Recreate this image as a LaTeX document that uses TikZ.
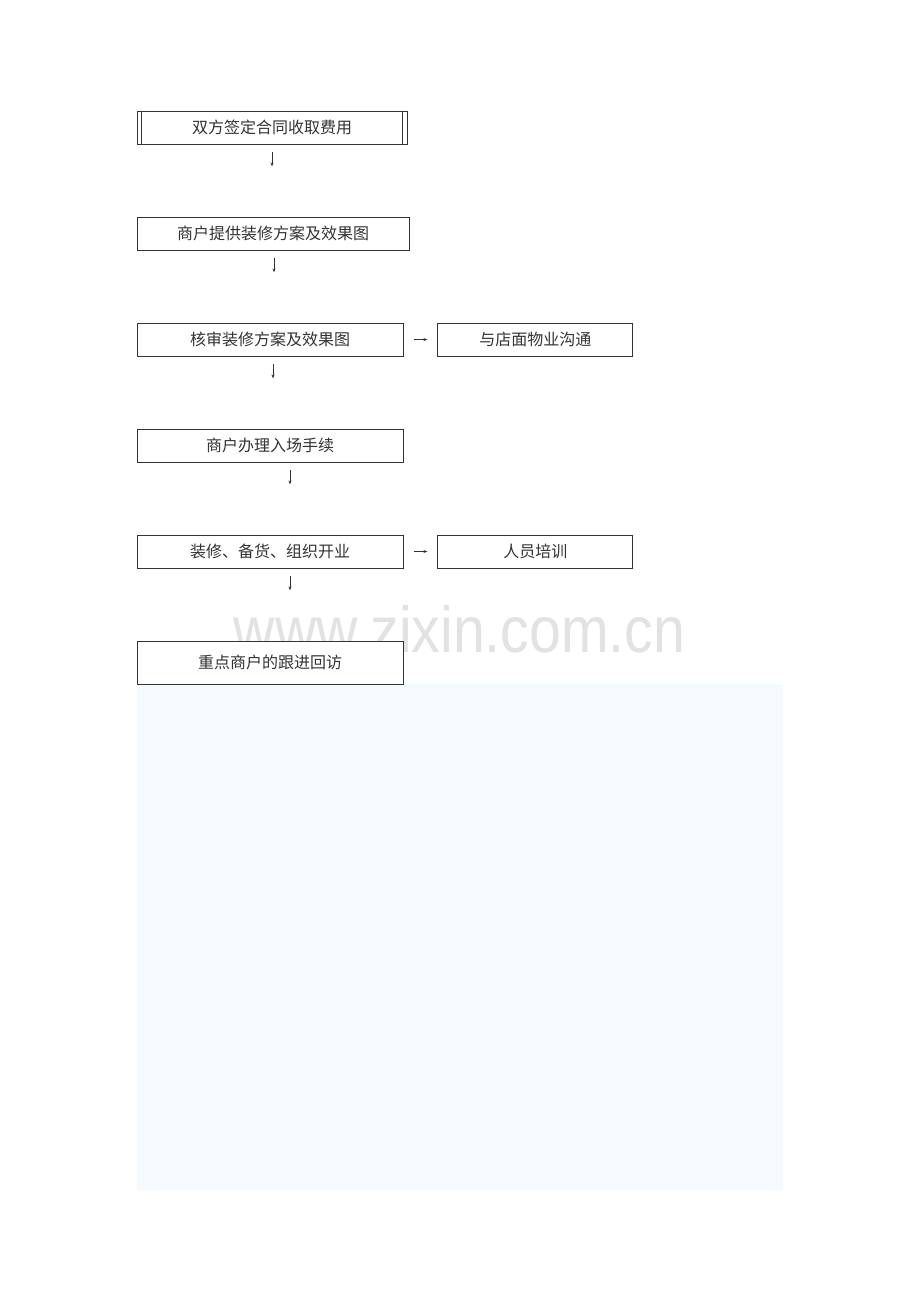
\documentclass[tikz,border=0pt]{standalone}
\usepackage{fontspec}
\setmainfont{Liberation Sans}
\newfontfamily\cjk{Noto Sans CJK SC}
\usepackage{tikz}
\usetikzlibrary{calc,arrows.meta,positioning}
\definecolor{inkgray}{HTML}{333333}
\definecolor{paleblue}{HTML}{F5FAFE}
\definecolor{markgray}{HTML}{E2E2E2}
\tikzset{
  flowbox/.style={rectangle, draw=inkgray, line width=0.8pt, minimum height=33pt,
    inner sep=0pt, text=inkgray, font=\cjk\fontsize{16}{19}\selectfont},
  arr/.style={-{Stealth[length=4pt,width=3pt]}, draw=inkgray, line width=0.6pt}
}
\begin{document}
\begin{tikzpicture}[x=1pt,y=-1pt]
\useasboundingbox (0,0) rectangle (920,1302);
\fill[white] (0,0) rectangle (920,1302);
% pale panel below the chart
\fill[paleblue] (137,684) rectangle (783,1190);

% watermark, partly hidden by the last box
\node[text=markgray, font=\fontsize{65}{68}\selectfont, anchor=base, xscale=0.88, transform shape] (mark) at (459.5,652) {www.zixin.com.cn};

% main column
\node[flowbox, minimum width=270pt] (sign) at (272,127.5) {双方签定合同收取费用};
\node[flowbox, minimum width=272pt] (plan) at (273,233.5) {商户提供装修方案及效果图};
\node[flowbox, minimum width=266pt] (check) at (270,339.5) {核审装修方案及效果图};
\node[flowbox, minimum width=266pt] (entry) at (270,445.5) {商户办理入场手续};
\node[flowbox, minimum width=266pt] (open) at (270,551.5) {装修、备货、组织开业};
\node[flowbox, fill=white, minimum width=266pt, minimum height=43pt] (visit) at (270,662.5) {重点商户的跟进回访};

% side boxes
\node[flowbox, minimum width=195pt, right=34pt of check] (talk) {与店面物业沟通};
\node[flowbox, minimum width=195pt, right=34pt of open] (train) {人员培训};

% double edges of the first box
\draw[inkgray, line width=0.8pt] ($(sign.north west)+(5,0)$) -- ($(sign.south west)+(5,0)$);
\draw[inkgray, line width=0.8pt] ($(sign.north east)+(-5,0)$) -- ($(sign.south east)+(-5,0)$);

% down arrows
\coordinate (a1) at ($(sign.south)+(0,8)$);
\coordinate (a2) at ($(plan.south)+(1,8)$);
\coordinate (a3) at ($(check.south)+(3,8)$);
\coordinate (a4) at ($(entry.south)+(20,8)$);
\coordinate (a5) at ($(open.south)+(20,8)$);
\draw[arr] (a1) -- ++(0,14);
\draw[arr] (a2) -- ++(0,14);
\draw[arr] (a3) -- ++(0,14);
\draw[arr] (a4) -- ++(0,14);
\draw[arr] (a5) -- ++(0,14);

% side arrows
\draw[arr] ($(check.east)+(11,0)$) -- ($(talk.west)+(-10,0)$);
\draw[arr] ($(open.east)+(11,0)$) -- ($(train.west)+(-10,0)$);
\end{tikzpicture}
\end{document}
